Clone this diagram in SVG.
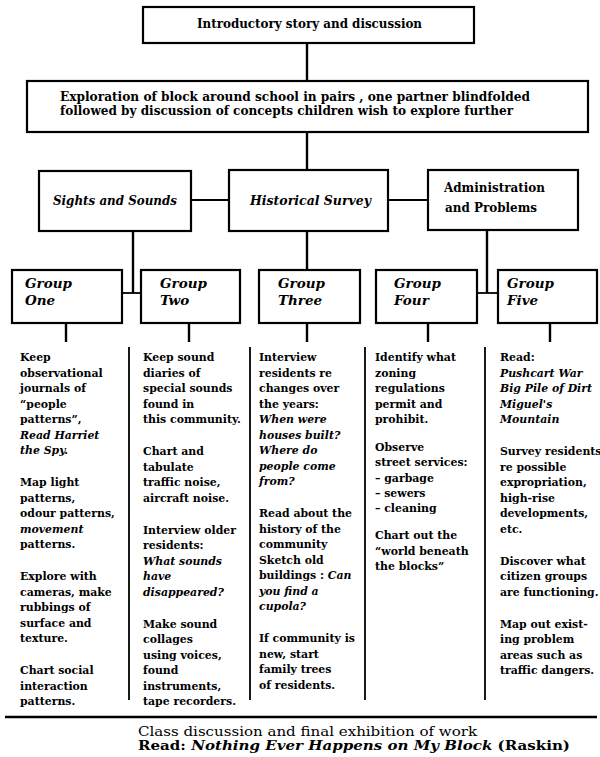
<svg xmlns="http://www.w3.org/2000/svg" width="600" height="757" viewBox="0 0 600 757">
<style>
.bg{fill:#fff}
.box{fill:#fff;stroke:#000;stroke-width:2.2}
.ln{stroke:#000;stroke-width:2.4;fill:none}
.thin{stroke:#000;stroke-width:1.8;fill:none}
.t{font-family:"DejaVu Serif","Liberation Serif",serif;font-weight:bold;font-size:10.9px;fill:#000}
.h{font-family:"DejaVu Serif","Liberation Serif",serif;font-weight:bold;font-size:12px;fill:#000}
.g{font-family:"DejaVu Serif","Liberation Serif",serif;font-weight:bold;font-style:italic;font-size:13.5px;fill:#000}
.b{font-family:"DejaVu Serif","Liberation Serif",serif;font-size:12px;fill:#000}
.i{font-style:italic}
.bd{font-weight:bold}
</style>
<rect class="bg" x="0" y="0" width="600" height="757"/>

<g id="connectors">
  <line class="ln" x1="307" y1="43" x2="307" y2="81"/>
  <line class="ln" x1="307" y1="132" x2="307" y2="170"/>
  <line class="thin" x1="191" y1="200" x2="229" y2="200"/>
  <line class="thin" x1="388" y1="200" x2="428" y2="200"/>
  <line class="ln" x1="133" y1="231" x2="133" y2="293"/>
  <line class="thin" x1="122" y1="293" x2="141" y2="293"/>
  <line class="ln" x1="307" y1="231" x2="307" y2="270"/>
  <line class="ln" x1="487" y1="230" x2="487" y2="293"/>
  <line class="thin" x1="477" y1="293" x2="498" y2="293"/>
  <line class="ln" x1="66" y1="323" x2="66" y2="342"/>
  <line class="ln" x1="189" y1="323" x2="189" y2="342"/>
  <line class="ln" x1="307" y1="323" x2="307" y2="342"/>
  <line class="ln" x1="428" y1="323" x2="428" y2="342"/>
  <line class="ln" x1="550" y1="323" x2="550" y2="342"/>
  <line class="thin" x1="129" y1="347" x2="129" y2="700"/>
  <line class="thin" x1="250" y1="347" x2="250" y2="700"/>
  <line class="thin" x1="365" y1="347" x2="365" y2="700"/>
  <line class="thin" x1="485" y1="347" x2="485" y2="700"/>
  <line class="ln" x1="5" y1="717" x2="597" y2="717"/>
</g>

<g id="intro">
  <rect class="box" x="143" y="7" width="331" height="36"/>
  <text class="h" font-size="11.5px" x="197" y="28" textLength="225" lengthAdjust="spacingAndGlyphs">Introductory story and discussion</text>
</g>

<g id="exploration">
  <rect class="box" x="27" y="81" width="561" height="51"/>
  <text class="h" font-size="10.5px" x="60" y="101" textLength="470" lengthAdjust="spacingAndGlyphs">Exploration of block around school in pairs , one partner blindfolded</text>
  <text class="h" font-size="10.5px" x="60" y="115" textLength="453" lengthAdjust="spacingAndGlyphs">followed by discussion of concepts children wish to explore further</text>
</g>

<g id="sights">
  <rect class="box" x="39" y="171" width="152" height="60"/>
  <text class="h i" x="53" y="205" textLength="124" lengthAdjust="spacingAndGlyphs">Sights and Sounds</text>
</g>

<g id="historical">
  <rect class="box" x="229" y="170" width="159" height="61"/>
  <text class="h i" x="250" y="205" textLength="121" lengthAdjust="spacingAndGlyphs">Historical Survey</text>
</g>

<g id="administration">
  <rect class="box" x="428" y="170" width="150" height="60"/>
  <text class="h" x="444" y="192" textLength="101" lengthAdjust="spacingAndGlyphs">Administration</text>
  <text class="h" x="445" y="212" textLength="92" lengthAdjust="spacingAndGlyphs">and Problems</text>
</g>

<g id="group-one">
  <rect class="box" x="12" y="270" width="110" height="53"/>
  <text class="g"><tspan x="25" y="288">Group</tspan><tspan x="25" y="305">One</tspan></text>
</g>
<g id="group-two">
  <rect class="box" x="141" y="270" width="99" height="53"/>
  <text class="g"><tspan x="160" y="288">Group</tspan><tspan x="160" y="305">Two</tspan></text>
</g>
<g id="group-three">
  <rect class="box" x="259" y="270" width="101" height="53"/>
  <text class="g"><tspan x="278" y="288">Group</tspan><tspan x="278" y="305">Three</tspan></text>
</g>
<g id="group-four">
  <rect class="box" x="376" y="270" width="101" height="53"/>
  <text class="g"><tspan x="394" y="288">Group</tspan><tspan x="394" y="305">Four</tspan></text>
</g>
<g id="group-five">
  <rect class="box" x="498" y="270" width="99" height="53"/>
  <text class="g"><tspan x="507" y="288">Group</tspan><tspan x="507" y="305">Five</tspan></text>
</g>

<g id="col-one">
  <text class="t">
    <tspan x="20" y="361">Keep</tspan>
    <tspan x="20" y="376.5">observational</tspan>
    <tspan x="20" y="392">journals of</tspan>
    <tspan x="20" y="407.5">“people</tspan>
    <tspan x="20" y="423">patterns”,</tspan>
    <tspan x="20" y="438.5" class="i">Read Harriet</tspan>
    <tspan x="20" y="454" class="i">the Spy.</tspan>
    <tspan x="20" y="486">Map light</tspan>
    <tspan x="20" y="501.5">patterns,</tspan>
    <tspan x="20" y="517">odour patterns,</tspan>
    <tspan x="20" y="532.5" class="i">movement</tspan>
    <tspan x="20" y="548">patterns.</tspan>
    <tspan x="20" y="580">Explore with</tspan>
    <tspan x="20" y="595.5">cameras, make</tspan>
    <tspan x="20" y="611">rubbings of</tspan>
    <tspan x="20" y="626.5">surface and</tspan>
    <tspan x="20" y="642">texture.</tspan>
    <tspan x="20" y="674">Chart social</tspan>
    <tspan x="20" y="689.5">interaction</tspan>
    <tspan x="20" y="705">patterns.</tspan>
  </text>
</g>

<g id="col-two">
  <text class="t">
    <tspan x="143" y="361">Keep sound</tspan>
    <tspan x="143" y="376.5">diaries of</tspan>
    <tspan x="143" y="392">special sounds</tspan>
    <tspan x="143" y="407.5">found in</tspan>
    <tspan x="143" y="423">this community.</tspan>
    <tspan x="143" y="455">Chart and</tspan>
    <tspan x="143" y="470.5">tabulate</tspan>
    <tspan x="143" y="486">traffic noise,</tspan>
    <tspan x="143" y="501.5">aircraft noise.</tspan>
    <tspan x="143" y="533.5">Interview older</tspan>
    <tspan x="143" y="549">residents:</tspan>
    <tspan x="143" y="564.5" class="i">What sounds</tspan>
    <tspan x="143" y="580" class="i">have</tspan>
    <tspan x="143" y="595.5" class="i">disappeared?</tspan>
    <tspan x="143" y="627.5">Make sound</tspan>
    <tspan x="143" y="643">collages</tspan>
    <tspan x="143" y="658.5">using voices,</tspan>
    <tspan x="143" y="674">found</tspan>
    <tspan x="143" y="689.5">instruments,</tspan>
    <tspan x="143" y="705">tape recorders.</tspan>
  </text>
</g>

<g id="col-three">
  <text class="t">
    <tspan x="259" y="361">Interview</tspan>
    <tspan x="259" y="376.5">residents re</tspan>
    <tspan x="259" y="392">changes over</tspan>
    <tspan x="259" y="407.5">the years:</tspan>
    <tspan x="259" y="423" class="i">When were</tspan>
    <tspan x="259" y="438.5" class="i">houses built?</tspan>
    <tspan x="259" y="454" class="i">Where do</tspan>
    <tspan x="259" y="469.5" class="i">people come</tspan>
    <tspan x="259" y="485" class="i">from?</tspan>
    <tspan x="259" y="517">Read about the</tspan>
    <tspan x="259" y="532.5">history of the</tspan>
    <tspan x="259" y="548">community</tspan>
    <tspan x="259" y="563.5">Sketch old</tspan>
    <tspan x="259" y="579">buildings : <tspan class="i">Can</tspan></tspan>
    <tspan x="259" y="594.5" class="i">you find a</tspan>
    <tspan x="259" y="610" class="i">cupola?</tspan>
    <tspan x="259" y="642">If community is</tspan>
    <tspan x="259" y="657.5">new, start</tspan>
    <tspan x="259" y="673">family trees</tspan>
    <tspan x="259" y="688.5">of residents.</tspan>
  </text>
</g>

<g id="col-four">
  <text class="t">
    <tspan x="375" y="361">Identify what</tspan>
    <tspan x="375" y="376.5">zoning</tspan>
    <tspan x="375" y="392">regulations</tspan>
    <tspan x="375" y="407.5">permit and</tspan>
    <tspan x="375" y="423">prohibit.</tspan>
    <tspan x="375" y="451">Observe</tspan>
    <tspan x="375" y="466">street services:</tspan>
    <tspan x="375" y="481.5">– garbage</tspan>
    <tspan x="375" y="497">– sewers</tspan>
    <tspan x="375" y="512">– cleaning</tspan>
    <tspan x="375" y="539">Chart out the</tspan>
    <tspan x="375" y="554.5">“world beneath</tspan>
    <tspan x="375" y="570">the blocks”</tspan>
  </text>
</g>

<g id="col-five">
  <text class="t">
    <tspan x="500" y="361">Read:</tspan>
    <tspan x="500" y="376.5" class="i">Pushcart War</tspan>
    <tspan x="500" y="392" class="i">Big Pile of Dirt</tspan>
    <tspan x="500" y="407.5" class="i">Miguel's</tspan>
    <tspan x="500" y="423" class="i">Mountain</tspan>
    <tspan x="500" y="455">Survey residents</tspan>
    <tspan x="500" y="470.5">re possible</tspan>
    <tspan x="500" y="486">expropriation,</tspan>
    <tspan x="500" y="501.5">high-rise</tspan>
    <tspan x="500" y="517">developments,</tspan>
    <tspan x="500" y="532.5">etc.</tspan>
    <tspan x="500" y="564.5">Discover what</tspan>
    <tspan x="500" y="580">citizen groups</tspan>
    <tspan x="500" y="595.5">are functioning.</tspan>
    <tspan x="500" y="627.5">Map out exist-</tspan>
    <tspan x="500" y="643">ing problem</tspan>
    <tspan x="500" y="658.5">areas such as</tspan>
    <tspan x="500" y="674">traffic dangers.</tspan>
  </text>
</g>

<g id="final">
  <text class="b" x="138" y="736" textLength="339" lengthAdjust="spacingAndGlyphs">Class discussion and final exhibition of work</text>
  <text class="b bd" x="138" y="750" textLength="432" lengthAdjust="spacingAndGlyphs">Read: <tspan class="i">Nothing Ever Happens on My Block</tspan> (Raskin)</text>
</g>
</svg>
